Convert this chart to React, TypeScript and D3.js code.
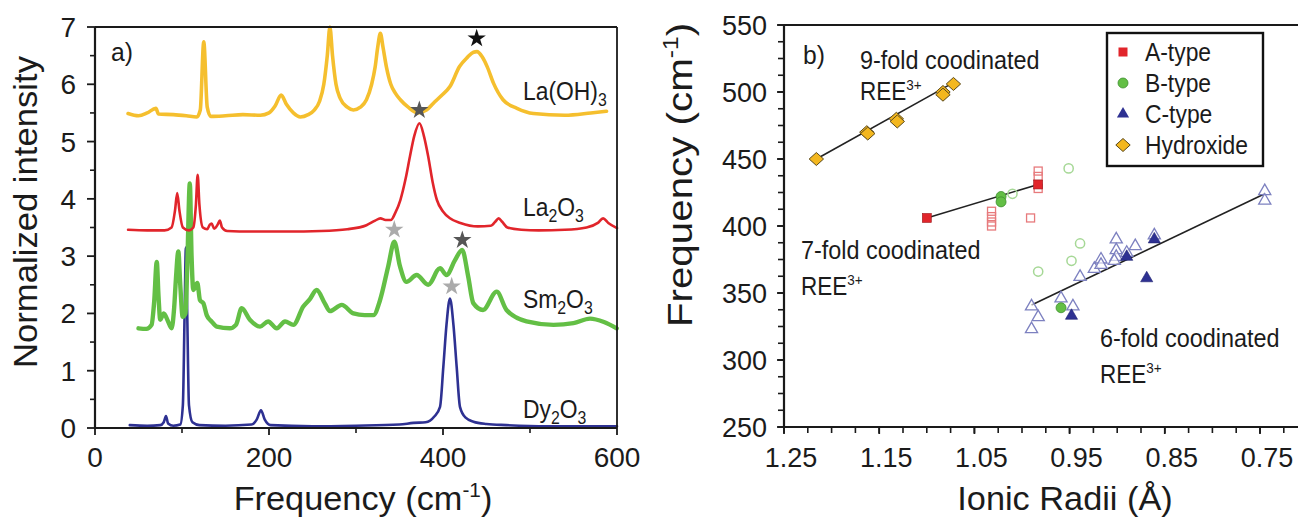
import React from 'react';
import * as d3 from 'd3';

type P = [number, number];

// ---------- Panel a) Raman spectra [frequency cm-1, normalized intensity] ----------
const laOHSpectrum: P[] = [
  [38, 5.49], [50, 5.45], [60, 5.5], [70, 5.58], [73, 5.48], [90, 5.47], [105, 5.45], [117, 5.43],
  [121, 5.55], [125, 6.74], [129, 5.6], [133, 5.44], [150, 5.45], [170, 5.47], [190, 5.46], [200, 5.5],
  [207, 5.62], [214, 5.81], [220, 5.65], [228, 5.5], [236, 5.43], [245, 5.47], [252, 5.55], [258, 5.7],
  [263, 6.0], [267, 6.5], [270, 7.0], [273, 6.5], [277, 6.0], [282, 5.75], [290, 5.6], [297, 5.55],
  [305, 5.6], [312, 5.73], [318, 6.0], [322, 6.3], [325, 6.65], [328, 6.89], [331, 6.65], [335, 6.3],
  [340, 6.0], [345, 5.85], [351, 5.73], [360, 5.6], [371, 5.5], [381, 5.55], [389, 5.67], [398, 5.8],
  [408, 5.96], [419, 6.31], [428, 6.47], [435, 6.56], [439, 6.57], [445, 6.48], [451, 6.3], [458, 6.02],
  [469, 5.73], [485, 5.58], [504, 5.49], [540, 5.46], [570, 5.5], [588, 5.53],
];
const la2O3Spectrum: P[] = [
  [38, 3.46], [60, 3.45], [80, 3.45], [88, 3.5], [92, 3.8], [94.5, 4.1], [97, 3.8], [101, 3.5],
  [108, 3.45], [113, 3.5], [116, 3.9], [118, 4.42], [120, 3.9], [124, 3.5], [129, 3.47], [132, 3.55],
  [134, 3.57], [137, 3.48], [141, 3.55], [143.5, 3.62], [146, 3.5], [152, 3.44], [180, 3.43], [220, 3.43],
  [260, 3.44], [290, 3.47], [312, 3.54], [322, 3.62], [328, 3.66], [334, 3.63], [340, 3.63], [345, 3.75],
  [351, 3.98], [357, 4.35], [362, 4.74], [367, 5.1], [373, 5.32], [378, 5.1], [383, 4.74], [388, 4.3],
  [393, 3.98], [400, 3.78], [408, 3.66], [420, 3.58], [440, 3.52], [455, 3.53], [460, 3.6], [464, 3.66],
  [468, 3.6], [474, 3.5], [490, 3.46], [510, 3.45], [540, 3.46], [565, 3.5], [578, 3.58], [584, 3.66],
  [590, 3.58], [600, 3.49],
];
const sm2O3Spectrum: P[] = [
  [50, 1.74], [59, 1.73], [65, 1.8], [68, 2.2], [71, 2.9], [73, 2.3], [75, 1.89], [79, 2.0], [84, 1.86],
  [88, 1.74], [91, 2.1], [93, 2.6], [95.8, 3.08], [98, 2.5], [100.8, 1.94], [104, 2.0], [106, 2.8],
  [109, 4.27], [111, 3.0], [113, 2.41], [117.6, 2.53], [120.7, 2.23], [124.5, 2.18], [128.4, 1.97],
  [134, 1.86], [140, 1.77], [155, 1.74], [162, 1.8], [168.6, 2.09], [178, 1.89], [189.7, 1.77],
  [199, 1.86], [208.9, 1.74], [218.4, 1.86], [228, 1.8], [239.4, 2.12], [247, 2.25], [254.8, 2.41],
  [264, 2.18], [270, 2.04], [283.6, 2.15], [297, 2.0], [310, 1.97], [320, 1.97], [327.6, 2.23],
  [337, 2.82], [344, 3.25], [350.6, 2.82], [358, 2.55], [369.7, 2.67], [383, 2.5], [396.6, 2.79],
  [404, 2.67], [413.8, 2.93], [422, 3.11], [429, 2.64], [434.8, 2.18], [446, 2.06], [461.7, 2.38],
  [473, 2.06], [496, 1.86], [527, 1.8], [550, 1.83], [569, 1.91], [585, 1.85], [599.6, 1.74],
];
const dy2O3Spectrum: P[] = [
  [40, 0.05], [60, 0.04], [75, 0.05], [79, 0.1], [81.6, 0.21], [84, 0.08], [90, 0.04], [98, 0.06],
  [101, 0.4], [103, 2.0], [104.5, 3.15], [106, 2.0], [108, 0.4], [112, 0.1], [120, 0.05], [150, 0.04],
  [180, 0.06], [186, 0.15], [190.8, 0.31], [195, 0.15], [202, 0.05], [250, 0.03], [300, 0.04],
  [350, 0.06], [366, 0.09], [380, 0.1], [390, 0.2], [396.6, 0.37], [400.4, 1.07], [404, 1.8],
  [408, 2.26], [412, 1.8], [415.7, 1.07], [419.5, 0.37], [426, 0.18], [435, 0.11], [450, 0.07],
  [473, 0.05], [520, 0.03], [600, 0.03],
];
// star markers: [frequency, intensity, tone]
const starMarks: [number, number, string][] = [
  [438.7, 6.8, 'black'], [372.8, 5.55, 'dark'], [344, 3.46, 'light'], [422.2, 3.28, 'dark'], [410, 2.47, 'light'],
];
const leftXTicks = [0, 200, 400, 600];
const leftYTicks = [0, 1, 2, 3, 4, 5, 6, 7];
// series labels: [text, subscript?] parts
const seriesLabels: [string, boolean][][] = [
  [['La(OH)', false], ['3', true]],
  [['La', false], ['2', true], ['O', false], ['3', true]],
  [['Sm', false], ['2', true], ['O', false], ['3', true]],
  [['Dy', false], ['2', true], ['O', false], ['3', true]],
];

// ---------- Panel b) frequency vs ionic radius [radius Å, frequency cm-1] ----------
const hydroxidePts: P[] = [
  [1.216, 450], [1.163, 470], [1.162, 469], [1.132, 480], [1.131, 478], [1.083, 500], [1.083, 498], [1.072, 506],
];
const aTypeFilled: P[] = [[1.1, 406], [0.983, 431]];
const aTypeOpen: P[] = [
  [1.032, 411], [1.032, 407], [1.032, 403], [1.032, 400], [0.983, 441], [0.983, 437], [0.983, 428], [0.991, 406],
];
const bTypeFilled: P[] = [[1.022, 422], [1.022, 418], [0.959, 339]];
const bTypeOpen: P[] = [[1.01, 424], [0.951, 443], [0.983, 366], [0.948, 374], [0.939, 387]];
const cTypeFilled: P[] = [[0.948, 333], [0.869, 361], [0.861, 390], [0.89, 377]];
const cTypeOpen: P[] = [
  [0.99, 340], [0.983, 332], [0.99, 323], [0.959, 346], [0.9465, 340], [0.939, 362], [0.924, 368],
  [0.917, 375], [0.917, 371], [0.901, 390], [0.901, 382], [0.901, 377], [0.903, 374], [0.89, 380],
  [0.881, 385], [0.861, 393], [0.745, 426], [0.745, 419],
];
const fitHydroxide: P[] = [[1.216, 450], [1.072, 507]];
const fitSevenFold: P[] = [[1.1, 406], [0.983, 431]];
const fitSixFold: P[] = [[0.99, 341], [0.745, 424]];
const rightXTicks = [1.25, 1.15, 1.05, 0.95, 0.85, 0.75];
const rightYTicks = [250, 300, 350, 400, 450, 500, 550];
const legendLabels = ['A-type', 'B-type', 'C-type', 'Hydroxide'];

const FONT = '"Liberation Sans", Arial, Helvetica, sans-serif';
const INK = '#1b1b1b';
const C = {
  yellow: '#F5BF2E', red: '#E1252B', green: '#63BF45', blue: '#2E3192',
  openRed: '#E77A7C', openGreen: '#A6D896', openBlue: '#7D81C0', diamond: '#F3B71F', diamondEdge: '#5b4a1c',
};
const toneColor: Record<string, string> = { black: '#111111', dark: '#565656', light: '#ababab' };

function T(props: {
  x: number; y: number; size: number; sx?: number; rot?: number; anchor?: string; children: React.ReactNode;
}) {
  const { x, y, size, sx = 1, rot = 0, anchor = 'start', children } = props;
  return (
    <text
      transform={`translate(${x},${y}) rotate(${rot}) scale(${sx},1)`}
      fontSize={size}
      fontFamily={FONT}
      fill={INK}
      textAnchor={anchor as any}
    >
      {children}
    </text>
  );
}

function chem(parts: [string, boolean][], subSize: number) {
  let level = 0;
  return parts.map(([s, isSub], i) => {
    const target = isSub ? 6 : 0;
    const dy = target - level;
    level = target;
    return (
      <tspan key={i} dy={dy} fontSize={isSub ? subSize : undefined}>{s}</tspan>
    );
  });
}

export default function App() {
  // ---- left scales
  const xL = d3.scaleLinear().domain([0, 600]).range([95, 617]);
  const yL = d3.scaleLinear().domain([0, 7]).range([428, 27]);
  const lineL = d3.line<P>().x(d => xL(d[0])).y(d => yL(d[1])).curve(d3.curveMonotoneX);

  // ---- right scales
  const xR = d3.scaleLinear().domain([1.25, 0.75]).range([784, 1260]);
  const yR = d3.scaleLinear().domain([250, 550]).range([427, 25]);
  const rRight = 1298;
  const lineR = d3.line<P>().x(d => xR(d[0])).y(d => yR(d[1]));

  const starPath = d3.symbol().type(d3.symbolStar).size(105)() as string;
  const triPath = d3.symbol().type(d3.symbolTriangle).size(64)() as string;
  const diamondPath = 'M0,-6.5L7.2,0L0,6.5L-7.2,0Z';

  const leftXMinor = d3.range(100, 600, 200);
  const leftYMinor = d3.range(0.5, 7, 1);
  const rightXMinor = d3.range(0, 22).map(k => 1.25 - k * 0.025).filter(v => xR(v) < rRight - 2);
  const rightYMinor = d3.range(0, 25).map(k => 250 + k * 12.5);

  const axisStroke = '#1a1a1a';

  const spectra: { data: P[]; color: string; width: number }[] = [
    { data: dy2O3Spectrum, color: C.blue, width: 2.6 },
    { data: sm2O3Spectrum, color: C.green, width: 4.4 },
    { data: la2O3Spectrum, color: C.red, width: 2.6 },
    { data: laOHSpectrum, color: C.yellow, width: 3.6 },
  ];
  const labelBaselines = [100, 216, 308, 418];

  return (
    <svg
      width={1298}
      height={517}
      style={{ position: 'absolute', left: 0, top: 0, background: '#fff' }}
      xmlns="http://www.w3.org/2000/svg"
    >
      <rect x={0} y={0} width={1298} height={517} fill="#fff" />

      {/* ================= LEFT PANEL ================= */}
      {spectra.map((s, i) => (
        <path key={i} d={lineL(s.data) as string} fill="none" stroke={s.color} strokeWidth={s.width}
          strokeLinejoin="round" strokeLinecap="round" />
      ))}
      {starMarks.map((s, i) => (
        <path key={i} d={starPath} transform={`translate(${xL(s[0])},${yL(s[1])})`} fill={toneColor[s[2]]} />
      ))}

      {/* frame */}
      <line x1={xL(0)} x2={xL(600)} y1={yL(7)} y2={yL(7)} stroke={axisStroke} strokeWidth={1.8} />
      <line x1={xL(600)} x2={xL(600)} y1={yL(7)} y2={yL(0)} stroke={axisStroke} strokeWidth={1.8} />
      <line x1={xL(0)} x2={xL(0)} y1={yL(7)} y2={yL(0) + 1} stroke={axisStroke} strokeWidth={2.2} />
      <line x1={xL(0) - 1} x2={xL(600)} y1={yL(0)} y2={yL(0)} stroke={axisStroke} strokeWidth={2.2} />
      {leftXTicks.map(v => (
        <g key={'lx' + v}>
          <line x1={xL(v)} x2={xL(v)} y1={yL(0)} y2={yL(0) + 7} stroke={axisStroke} strokeWidth={1.8} />
          <T x={xL(v)} y={467} size={28} anchor="middle">{String(v)}</T>
        </g>
      ))}
      {leftXMinor.map(v => (
        <line key={'lxm' + v} x1={xL(v)} x2={xL(v)} y1={yL(0)} y2={yL(0) + 5} stroke={axisStroke} strokeWidth={1.6} />
      ))}
      {leftYTicks.map(v => (
        <g key={'ly' + v}>
          <line x1={xL(0) - 8} x2={xL(0)} y1={yL(v)} y2={yL(v)} stroke={axisStroke} strokeWidth={1.8} />
          <T x={76} y={yL(v) + 10} size={28} anchor="end">{String(v)}</T>
        </g>
      ))}
      {leftYMinor.map(v => (
        <line key={'lym' + v} x1={xL(0) - 5} x2={xL(0)} y1={yL(v)} y2={yL(v)} stroke={axisStroke} strokeWidth={1.6} />
      ))}
      <T x={111} y={61} size={26} sx={0.95}>a)</T>
      {seriesLabels.map((parts, i) => (
        <T key={'sl' + i} x={523} y={labelBaselines[i]} size={26} sx={0.88}>{chem(parts, 18)}</T>
      ))}
      <T x={37} y={212} size={33} rot={-90} sx={1.05} anchor="middle">Normalized intensity</T>
      <T x={363} y={510} size={33} sx={1.04} anchor="middle">
        <tspan>Frequency (cm</tspan><tspan dy={-13} fontSize={20}>-1</tspan><tspan dy={13}>)</tspan>
      </T>

      {/* ================= RIGHT PANEL ================= */}
      {[fitHydroxide, fitSevenFold, fitSixFold].map((f, i) => (
        <path key={'fit' + i} d={lineR(f) as string} stroke="#222" strokeWidth={1.6} fill="none" />
      ))}
      {aTypeOpen.map((d, i) => (
        <rect key={'ao' + i} x={xR(d[0]) - 4} y={yR(d[1]) - 4} width={8} height={8} fill="none"
          stroke={C.openRed} strokeWidth={1.3} />
      ))}
      {bTypeOpen.map((d, i) => (
        <circle key={'bo' + i} cx={xR(d[0])} cy={yR(d[1])} r={4.6} fill="none" stroke={C.openGreen} strokeWidth={1.5} />
      ))}
      {cTypeOpen.map((d, i) => (
        <path key={'co' + i} d={triPath} transform={`translate(${xR(d[0])},${yR(d[1])})`} fill="#fff"
          fillOpacity={0.6} stroke={C.openBlue} strokeWidth={1.3} />
      ))}
      {aTypeFilled.map((d, i) => (
        <rect key={'af' + i} x={xR(d[0]) - 4.5} y={yR(d[1]) - 4.5} width={9} height={9} fill={C.red}
          stroke="#9c1a1e" strokeWidth={0.6} />
      ))}
      {bTypeFilled.map((d, i) => (
        <circle key={'bf' + i} cx={xR(d[0])} cy={yR(d[1])} r={5} fill={C.green} stroke="#3d8f2e" strokeWidth={0.8} />
      ))}
      {cTypeFilled.map((d, i) => (
        <path key={'cf' + i} d={triPath} transform={`translate(${xR(d[0])},${yR(d[1])})`} fill={C.blue}
          stroke="#1f2270" strokeWidth={0.6} />
      ))}
      {hydroxidePts.map((d, i) => (
        <path key={'hy' + i} d={diamondPath} transform={`translate(${xR(d[0])},${yR(d[1])})`} fill={C.diamond}
          stroke={C.diamondEdge} strokeWidth={1} />
      ))}

      {/* frame */}
      <line x1={xR(1.25)} x2={rRight} y1={yR(550)} y2={yR(550)} stroke={axisStroke} strokeWidth={1.8} />
      <line x1={xR(1.25)} x2={xR(1.25)} y1={yR(550)} y2={yR(250) + 1} stroke={axisStroke} strokeWidth={2.2} />
      <line x1={xR(1.25) - 1} x2={rRight} y1={yR(250)} y2={yR(250)} stroke={axisStroke} strokeWidth={2.2} />
      {rightXMinor.map((v, i) => (
        <line key={'rxm' + i} x1={xR(v)} x2={xR(v)} y1={yR(250)} y2={yR(250) + 6} stroke={axisStroke} strokeWidth={1.6} />
      ))}
      {rightXTicks.map(v => (
        <g key={'rx' + v}>
          <line x1={xR(v)} x2={xR(v)} y1={yR(250)} y2={yR(250) + 7} stroke={axisStroke} strokeWidth={1.8} />
          <T x={xR(v) + 7} y={467} size={27} anchor="middle">{v.toFixed(2)}</T>
        </g>
      ))}
      {rightYMinor.map((v, i) => (
        <line key={'rym' + i} x1={xR(1.25) - 6} x2={xR(1.25)} y1={yR(v)} y2={yR(v)} stroke={axisStroke} strokeWidth={1.6} />
      ))}
      {rightYTicks.map(v => (
        <g key={'ry' + v}>
          <line x1={xR(1.25) - 7} x2={xR(1.25)} y1={yR(v)} y2={yR(v)} stroke={axisStroke} strokeWidth={1.8} />
          <T x={767} y={yR(v) + 9.5} size={27} anchor="end">{String(v)}</T>
        </g>
      ))}

      {/* legend */}
      <rect x={1107} y={33} width={156} height={133} fill="#fff" stroke="#111" strokeWidth={2.4} />
      <rect x={1118.5} y={47.5} width={9} height={9} fill={C.red} />
      <circle cx={1123} cy={83} r={5} fill={C.green} stroke="#3d8f2e" strokeWidth={0.8} />
      <path d={triPath} transform="translate(1123,114)" fill={C.blue} />
      <path d={diamondPath} transform="translate(1123,145)" fill={C.diamond} stroke={C.diamondEdge} strokeWidth={1} />
      {legendLabels.map((l, i) => (
        <T key={l} x={1145} y={61 + i * 31} size={26} sx={0.88}>{l}</T>
      ))}

      {/* annotations */}
      <T x={803} y={64} size={26} sx={0.95}>b)</T>
      <T x={860} y={69} size={26} sx={0.9}>9-fold coodinated</T>
      <T x={860} y={100} size={25} sx={0.9}><tspan>REE</tspan><tspan dy={-10} fontSize={15}>3+</tspan></T>
      <T x={801} y={259} size={26} sx={0.9}>7-fold coodinated</T>
      <T x={801} y={295} size={25} sx={0.9}><tspan>REE</tspan><tspan dy={-10} fontSize={15}>3+</tspan></T>
      <T x={1100} y={347} size={26} sx={0.9}>6-fold coodinated</T>
      <T x={1100} y={383} size={25} sx={0.9}><tspan>REE</tspan><tspan dy={-10} fontSize={15}>3+</tspan></T>

      <T x={692} y={175} size={36} rot={-90} sx={1.12} anchor="middle">
        <tspan>Frequency (cm</tspan><tspan dy={-14} fontSize={22}>-1</tspan><tspan dy={14}>)</tspan>
      </T>
      <T x={1065} y={510} size={33} sx={1.04} anchor="middle">Ionic Radii (Å)</T>
    </svg>
  );
}
